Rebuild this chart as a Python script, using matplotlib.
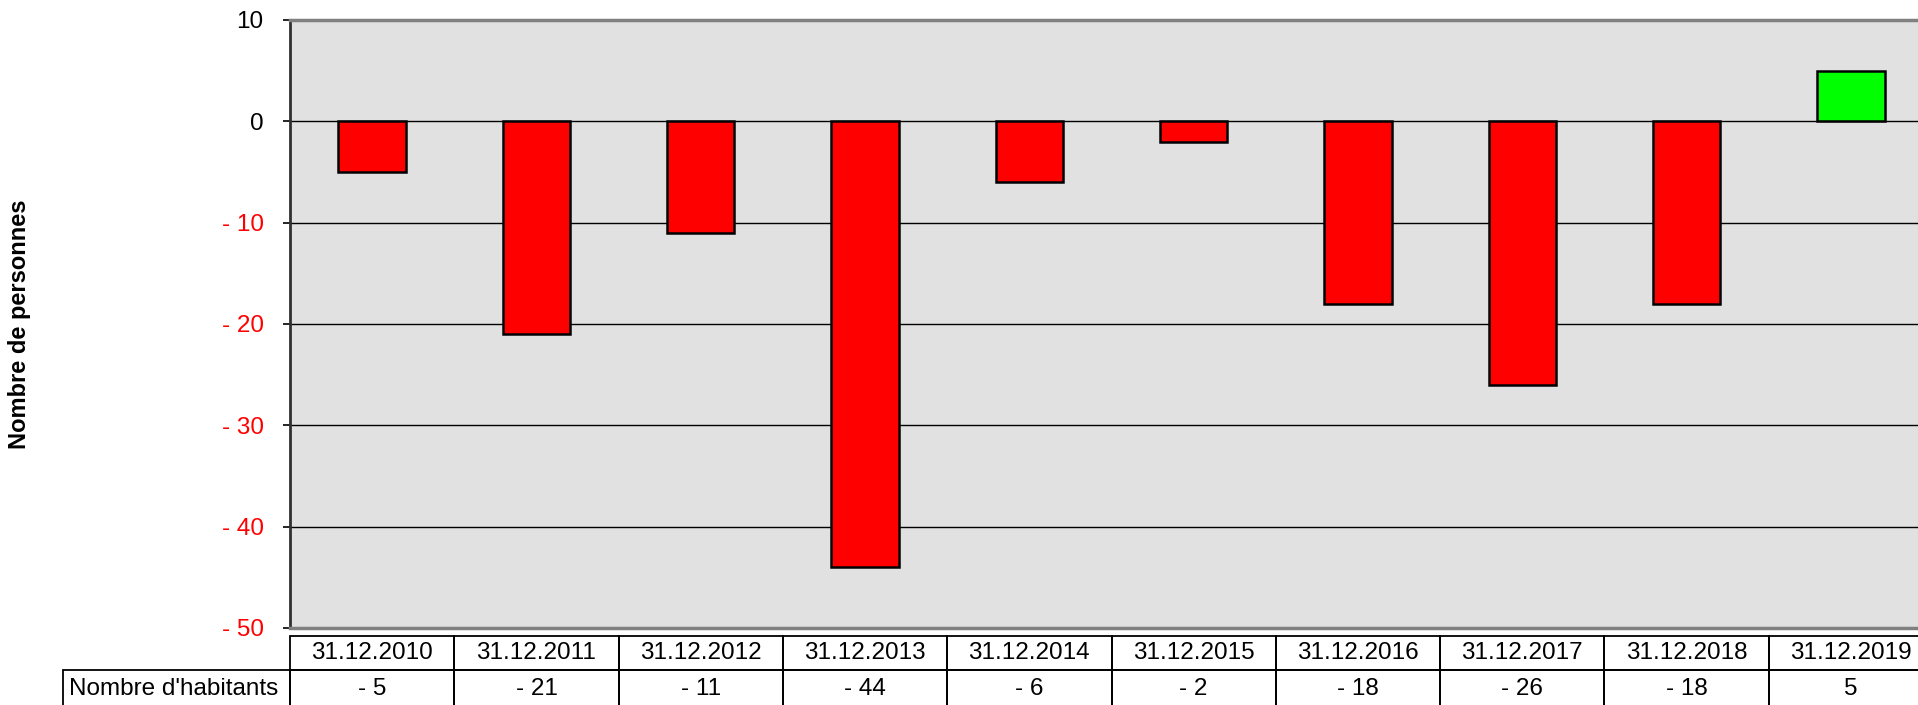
#!/usr/bin/env python3
"""Évolution du nombre d'habitants : barres + tableau de données."""
import numpy as np
import matplotlib
matplotlib.use('Agg')
import matplotlib.pyplot as plt
import matplotlib.transforms as mtransforms
from matplotlib.patches import Rectangle

plt.rcParams['font.family'] = ['Liberation Sans', 'DejaVu Sans']

dates = ['31.12.2010', '31.12.2011', '31.12.2012', '31.12.2013', '31.12.2014',
         '31.12.2015', '31.12.2016', '31.12.2017', '31.12.2018', '31.12.2019']
habitants = [-5, -21, -11, -44, -6, -2, -18, -26, -18, 5]
row_label = "Nombre d'habitants"
y_label = 'Nombre de personnes'
y_ticks = [10, 0, -10, -20, -30, -40, -50]

W, H = 1918, 705


def fmt(v):
    return f'- {abs(v)}' if v < 0 else f'{v}'


def main():
    fig = plt.figure(figsize=(W / 100, H / 100), dpi=100)
    # plot area: x 290 -> 1933 px (cut at right edge), y 20 -> 628 px
    ax = fig.add_axes([290 / W, (H - 628) / H, (1933 - 290) / W, (628 - 20) / H])
    ax.set_facecolor('#e1e1e1')

    x = np.arange(len(dates))
    colors = ['#ff0000' if v < 0 else '#00ff00' for v in habitants]
    ax.set_axisbelow(True)
    ax.yaxis.grid(True, color='black', linewidth=1.0)
    ax.bar(x, habitants, width=0.41, color=colors, edgecolor='black',
           linewidth=1.8, zorder=3)

    ax.set_xlim(-0.5, len(dates) - 0.5)
    ax.set_ylim(-50, 10)
    ax.set_yticks(y_ticks)
    ax.set_yticklabels([fmt(v) for v in y_ticks], fontsize=17.5)
    for lab, v in zip(ax.get_yticklabels(), y_ticks):
        lab.set_color('red' if v < 0 else 'black')
    ax.tick_params(axis='y', direction='out', length=5, width=1.2, pad=14,
                   color='black')
    ax.set_xticks([])

    ax.spines['left'].set_color('#303030')
    ax.spines['left'].set_linewidth(2.0)
    for s in ['top', 'bottom']:
        ax.spines[s].set_color('#808080')
        ax.spines[s].set_linewidth(2.5)
    ax.spines['right'].set_visible(False)

    fig.text(20 / W, (H - 324) / H, y_label, rotation=90, ha='center',
             va='center', fontsize=17, fontweight='bold')

    # data table below the plot
    tr = mtransforms.blended_transform_factory(ax.transData, fig.transFigure)
    y_top, y_mid, y_bot = (H - 636) / H, (H - 670) / H, (H - 720) / H
    for i, (d, v) in enumerate(zip(dates, habitants)):
        fig.patches.append(Rectangle((i - 0.5, y_mid), 1, y_top - y_mid,
                                     transform=tr, fill=False,
                                     edgecolor='black', linewidth=1.3))
        fig.patches.append(Rectangle((i - 0.5, y_bot), 1, y_mid - y_bot,
                                     transform=tr, fill=False,
                                     edgecolor='black', linewidth=1.3))
        fig.text(i, (H - 653) / H, d, transform=tr, ha='center', va='center',
                 fontsize=17.5)
        fig.text(i, (H - 689) / H, fmt(v), transform=tr, ha='center',
                 va='center', fontsize=17.5)

    fig.patches.append(Rectangle((63 / W, y_bot), (290 - 63) / W, y_mid - y_bot,
                                 transform=fig.transFigure, fill=False,
                                 edgecolor='black', linewidth=1.3))
    fig.text(69 / W, (H - 689) / H, row_label, ha='left', va='center',
             fontsize=17.5)

    fig.savefig('out.png', dpi=100)
    plt.close(fig)


if __name__ == '__main__':
    main()
